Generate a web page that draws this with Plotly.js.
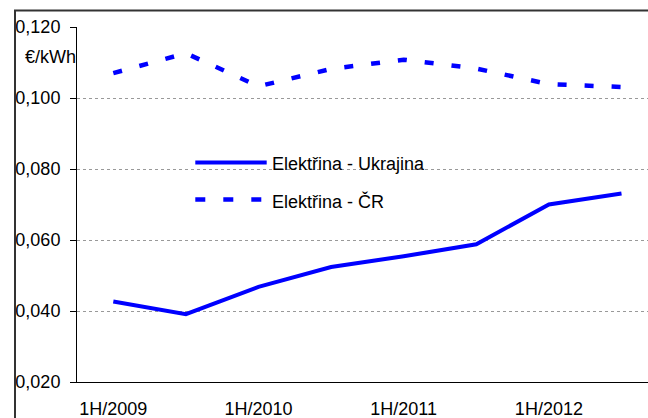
<!DOCTYPE html>
<html>
<head>
<meta charset="utf-8">
<script src="https://cdn.plot.ly/plotly-3.0.1.min.js"></script>
<style>html,body{margin:0;padding:0;background:#fff;}#chart{width:648px;height:418px;}</style>
</head>
<body>
<div id="chart"></div>
<script>
// Data
const categories = ['1H/2009','2H/2009','1H/2010','2H/2010','1H/2011','2H/2011','1H/2012','2H/2012'];
const ukrajina = [0.0427, 0.0391, 0.0468, 0.0524, 0.0554, 0.0588, 0.0700, 0.0731];
const cr = [0.1070, 0.1126, 0.1033, 0.1082, 0.1108, 0.1083, 0.1039, 0.1031];
const labelCats = ['1H/2009','1H/2010','1H/2011','1H/2012'];
const seriesNames = ['Elektřina - Ukrajina', 'Elektřina - ČR'];
const unitLabel = '€/kWh';

const FONT = '"Liberation Sans", Arial, sans-serif';
const FS = 18;
const BLUE = '#0000FF';
const W = 648, H = 418, ML = 77, MR = 0, MT = 27, MB = 36;
const PW = W - ML - MR, PH = H - MT - MB;
const px = x => (x - ML) / PW;
const py = y => (H - MB - y) / PH;
const catW = 72.6;
const xr = [-0.5, -0.5 + PW / catW];

const traces = [
  {x: categories, y: ukrajina, type: 'scatter', mode: 'lines', name: seriesNames[0],
   line: {color: BLUE, width: 4}, showlegend: false},
  {x: categories, y: cr, type: 'scatter', mode: 'lines', name: seriesNames[1],
   line: {color: BLUE, width: 4.5, dash: '9px,18px'}, showlegend: false}
];

const boundaries = [];
for (let i = 0; i < categories.length; i++) boundaries.push(i - 0.5);

const layout = {
  width: W, height: H,
  margin: {l: ML, r: MR, t: MT, b: MB, pad: 0},
  paper_bgcolor: '#fff', plot_bgcolor: '#fff',
  separators: ',.',
  font: {family: FONT, size: FS, color: '#000'},
  showlegend: false,
  xaxis: {
    type: 'category', range: xr, categoryorder: 'array', categoryarray: categories,
    tickmode: 'array', tickvals: labelCats, ticktext: labelCats,
    ticks: '', showgrid: false, zeroline: false,
    showline: true, linecolor: '#000', linewidth: 1,
    tickfont: {family: FONT, size: FS, color: '#000'},
    ticklabelstandoff: 10
  },
  xaxis2: {
    type: 'linear', overlaying: 'x', anchor: 'y', side: 'bottom', range: xr,
    tickmode: 'array', tickvals: boundaries, ticks: 'outside', ticklen: 6,
    tickcolor: '#000', tickwidth: 1, showticklabels: false, showgrid: false,
    zeroline: false, showline: false
  },
  yaxis: {
    range: [0.02, 0.12], tickmode: 'linear', tick0: 0.02, dtick: 0.02,
    tickformat: '.3f', ticks: 'outside', ticklen: 6, tickcolor: '#000',
    showline: true, linecolor: '#000', linewidth: 1,
    showgrid: true, gridcolor: '#999', griddash: 'dot', gridwidth: 1,
    zeroline: false, tickfont: {family: FONT, size: FS, color: '#000'},
    ticklabelstandoff: 6
  },
  shapes: [
    // outer frame
    {type: 'rect', xref: 'paper', yref: 'paper', x0: px(15), x1: px(700), y0: py(470), y1: py(10.5),
     line: {color: '#333', width: 2}, fillcolor: 'rgba(0,0,0,0)', layer: 'above'},
    // legend background
    {type: 'rect', xref: 'paper', yref: 'paper', x0: px(142.7), x1: px(475), y0: py(225), y1: py(140),
     line: {width: 0}, fillcolor: '#fff', layer: 'between'},
    // legend samples
    {type: 'line', xref: 'paper', yref: 'paper', x0: px(195.3), x1: px(266.7), y0: py(162.5), y1: py(162.5),
     line: {color: BLUE, width: 4}},
    {type: 'line', xref: 'paper', yref: 'paper', x0: px(195.3), x1: px(262), y0: py(199.5), y1: py(199.5),
     line: {color: BLUE, width: 4.5, dash: '10px,18px'}}
  ],
  annotations: [
    {xref: 'paper', yref: 'paper', x: px(270), y: py(164), xanchor: 'left', yanchor: 'middle',
     text: seriesNames[0], showarrow: false, font: {family: FONT, size: FS, color: '#000'}},
    {xref: 'paper', yref: 'paper', x: px(270), y: py(201.5), xanchor: 'left', yanchor: 'middle',
     text: seriesNames[1], showarrow: false, font: {family: FONT, size: FS, color: '#000'}},
    {xref: 'paper', yref: 'paper', x: px(77.5), y: py(57), xanchor: 'right', yanchor: 'middle',
     text: unitLabel, showarrow: false, font: {family: FONT, size: FS, color: '#000'}}
  ]
};

Plotly.newPlot('chart', traces, layout, {displayModeBar: false, staticPlot: true});
</script>
</body>
</html>
